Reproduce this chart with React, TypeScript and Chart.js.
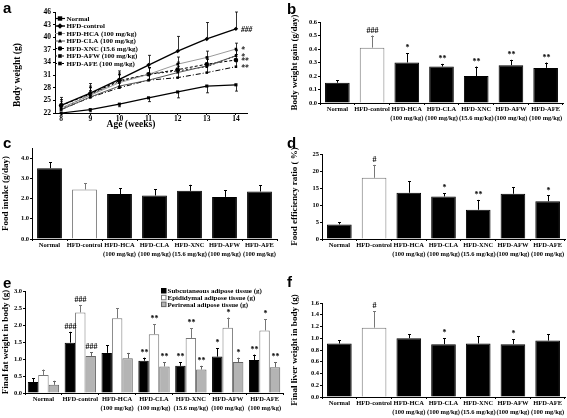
import React, { useEffect, useRef } from "react";
import { Chart, registerables } from "chart.js";
Chart.register(...registerables);

const FONT = "'Liberation Serif', 'Times New Roman', serif";
Chart.defaults.font.family = FONT;
Chart.defaults.color = "#000";

// ---------- data ----------
const ageWeeks = [8, 9, 10, 11, 12, 13, 14];
const bwNormal = [22.0, 22.8, 24.1, 25.6, 27.0, 28.4, 28.7];
const bwNormalSd = [0.3, 0.5, 0.6, 0.9, 1.4, 1.6, 1.5];
const bwControl = [23.8, 26.7, 30.0, 33.4, 36.7, 39.6, 42.0];
const bwControlSd = [1.9, 2.3, 2.0, 2.3, 3.5, 3.9, 4.0];
const bwHca = [23.2, 26.2, 29.2, 31.2, 33.6, 35.2, 37.2];
const bwHcaSd = [1.6, 2.2, 1.9, 1.6, 1.7, 1.5, 1.4];
const bwCla = [22.8, 25.8, 28.4, 29.8, 31.6, 33.2, 35.6];
const bwClaSd = [1.2, 1.5, 1.5, 1.5, 1.5, 1.6, 1.2];
const bwXnc = [23.8, 26.5, 29.7, 31.2, 32.3, 33.6, 34.6];
const bwXncSd = [1.4, 1.6, 1.8, 1.6, 1.8, 1.7, 1.3];
const bwAfw = [23.0, 26.3, 29.5, 31.2, 32.0, 33.0, 35.6];
const bwAfwSd = [1.3, 1.7, 1.6, 1.5, 1.8, 1.8, 1.4];
const bwAfe = [22.8, 25.7, 28.0, 29.8, 30.4, 31.6, 33.0];
const bwAfeSd = [1.2, 1.5, 1.6, 1.4, 1.6, 1.6, 1.2];
const bwMarks = ["", "###", "*", "*", "**", "", "**"];

const groupLabels = [
  "Normal",
  "HFD-control",
  ["HFD-HCA", "(100 mg/kg)"],
  ["HFD-CLA", "(100 mg/kg)"],
  ["HFD-XNC", "(15.6 mg/kg)"],
  ["HFD-AFW", "(100 mg/kg)"],
  ["HFD-AFE", "(100 mg/kg)"],
];

const gainValues = [0.15, 0.41, 0.30, 0.27, 0.20, 0.28, 0.26];
const gainErr = [0.02, 0.09, 0.07, 0.02, 0.07, 0.04, 0.04];
const gainMarks = ["", "###", "*", "**", "**", "**", "**"];

const intakeValues = [3.5, 2.45, 2.22, 2.15, 2.38, 2.08, 2.35];
const intakeErr = [0.3, 0.3, 0.3, 0.3, 0.3, 0.32, 0.3];
const intakeMarks = ["", "", "", "", "", "", ""];

const ferValues = [4.3, 18.0, 13.6, 12.5, 8.6, 13.3, 11.1];
const ferErr = [0.6, 3.8, 3.4, 1.0, 2.9, 2.0, 1.7];
const ferMarks = ["", "#", "", "*", "**", "", "*"];

const subcutValues = [0.32, 1.48, 1.18, 0.95, 0.80, 1.07, 0.97];
const subcutErr = [0.12, 0.32, 0.22, 0.09, 0.10, 0.25, 0.16];
const subcutMarks = ["", "###", "", "**", "**", "*", "**"];
const epiValues = [0.53, 2.37, 2.20, 1.73, 1.62, 1.92, 1.84];
const epiErr = [0.16, 0.22, 0.30, 0.29, 0.28, 0.30, 0.33];
const epiMarks = ["", "###", "", "**", "**", "*", "*"];
const periValues = [0.24, 1.09, 1.02, 0.78, 0.69, 0.91, 0.76];
const periErr = [0.12, 0.11, 0.16, 0.12, 0.11, 0.13, 0.14];
const periMarks = ["", "###", "", "**", "**", "*", "**"];
const fatLegend = [
  "Subcutaneous adipose tissue (g)",
  "Epididymal adipose tissue (g)",
  "Perirenal adipose tissue (g)",
];

const liverValues = [0.91, 1.18, 1.00, 0.90, 0.91, 0.90, 0.96];
const liverErr = [0.06, 0.28, 0.07, 0.10, 0.12, 0.08, 0.11];
const liverMarks = ["", "#", "", "*", "", "*", ""];

// ---------- helpers ----------
type Rect = { l: number; t: number; w: number; h: number };
type Plot = { l: number; t: number; r: number; b: number };
type Series = { values: number[]; errs: number[]; marks: string[]; fill: string; stroke: string };

function drawMarker(ctx: CanvasRenderingContext2D, style: string, x: number, y: number, r: number) {
  ctx.beginPath();
  if (style === "rect") ctx.rect(x - r, y - r, 2 * r, 2 * r);
  else if (style === "rectRot") {
    ctx.moveTo(x, y - r * 1.3); ctx.lineTo(x + r * 1.3, y); ctx.lineTo(x, y + r * 1.3); ctx.lineTo(x - r * 1.3, y); ctx.closePath();
  } else if (style === "triangle") {
    ctx.moveTo(x, y - r * 1.2); ctx.lineTo(x + r * 1.1, y + r * 0.8); ctx.lineTo(x - r * 1.1, y + r * 0.8); ctx.closePath();
  } else ctx.arc(x, y, r, 0, Math.PI * 2);
  ctx.fill();
}

function errPlugin(series: Series[]) {
  return {
    id: "errs",
    afterDatasetsDraw(chart: any) {
      const ctx: CanvasRenderingContext2D = chart.ctx;
      const ys = chart.scales.y;
      series.forEach((s, i) => {
        const meta = chart.getDatasetMeta(i);
        meta.data.forEach((el: any, j: number) => {
          const x = Math.round(el.x) + 0.5;
          const y0 = ys.getPixelForValue(s.values[j]);
          const y1 = ys.getPixelForValue(s.values[j] + s.errs[j]);
          ctx.save();
          ctx.strokeStyle = s.stroke;
          ctx.lineWidth = 1;
          ctx.beginPath();
          ctx.moveTo(x, y0);
          ctx.lineTo(x, y1);
          ctx.moveTo(x - 1.5, Math.round(y1) + 0.5);
          ctx.lineTo(x + 1.5, Math.round(y1) + 0.5);
          ctx.stroke();
          const m = s.marks[j];
          if (m) {
            ctx.fillStyle = "#000";
            ctx.font = `bold 8px ${FONT}`;
            ctx.textAlign = "center";
            ctx.textBaseline = "bottom";
            ctx.fillText(m, x, y1 - 1);
          }
          ctx.restore();
        });
      });
    },
  };
}

type BarCfg = {
  series: Series[];
  max: number;
  step: number;
  dec: number;
  title: string;
  titlePad: number;
  catPct: number;
  barPct: number;
  extra?: any;
};

function barChart(canvas: HTMLCanvasElement, box: Rect, plot: Plot, cfg: BarCfg) {
  const yW = plot.l - box.l;
  const xH = box.t + box.h - plot.b;
  const plugins: any[] = [errPlugin(cfg.series)];
  if (cfg.extra) plugins.push(cfg.extra);
  return new Chart(canvas, {
    type: "bar",
    data: {
      labels: groupLabels as any,
      datasets: cfg.series.map((s) => ({
        data: s.values,
        backgroundColor: s.fill,
        borderColor: s.stroke,
        borderWidth: 1,
        categoryPercentage: cfg.catPct,
        barPercentage: cfg.barPct,
      })),
    },
    options: {
      animation: false,
      responsive: false,
      devicePixelRatio: 1,
      layout: { padding: { left: 0, top: plot.t - box.t, right: box.l + box.w - plot.r, bottom: 0 } },
      plugins: { legend: { display: false }, tooltip: { enabled: false } },
      scales: {
        x: {
          grid: { drawOnChartArea: false, tickLength: 2, color: "#000", offset: true },
          border: { color: "#000", width: 1 },
          ticks: {
            color: "#000",
            font: { size: 6.5, weight: "bold", family: FONT, lineHeight: 1.35 },
            padding: 0,
            maxRotation: 0,
            minRotation: 0,
            autoSkip: false,
          },
          afterFit: (s: any) => { s.height = xH; },
        },
        y: {
          min: 0,
          max: cfg.max,
          grid: { drawOnChartArea: false, tickLength: 2, color: "#000" },
          border: { color: "#000", width: 1 },
          ticks: {
            stepSize: cfg.step,
            color: "#000",
            padding: 1,
            font: { size: 6.5, weight: "bold", family: FONT },
            callback: (v: any) => Number(v).toFixed(cfg.dec),
          },
          title: {
            display: true,
            text: cfg.title,
            color: "#000",
            font: { size: 9, weight: "bold", family: FONT },
            padding: { top: cfg.titlePad, bottom: 0 },
          },
          afterFit: (s: any) => { s.width = yW; },
        },
      },
    } as any,
    plugins,
  });
}

// ---------- panel a ----------
const lineSeries = [
  { label: "Normal", data: bwNormal, sd: bwNormalSd, color: "#000", width: 1.2, dash: [] as number[], point: "rect", r: 2.2, down: true },
  { label: "HFD-control", data: bwControl, sd: bwControlSd, color: "#000", width: 1.4, dash: [], point: "rectRot", r: 2.2, down: false },
  { label: "HFD-HCA (100 mg/kg)", data: bwHca, sd: bwHcaSd, color: "#9a9a9a", width: 1, dash: [], point: "rect", r: 1.8, down: false },
  { label: "HFD-CLA (100 mg/kg)", data: bwCla, sd: bwClaSd, color: "#555", width: 1, dash: [], point: "triangle", r: 1.9, down: false },
  { label: "HFD-XNC (15.6 mg/kg)", data: bwXnc, sd: bwXncSd, color: "#000", width: 1, dash: [3, 2], point: "circle", r: 2.3, down: false },
  { label: "HFD-AFW (100 mg/kg)", data: bwAfw, sd: bwAfwSd, color: "#222", width: 1, dash: [2, 2], point: "rect", r: 1.8, down: false },
  { label: "HFD-AFE (100 mg/kg)", data: bwAfe, sd: bwAfeSd, color: "#000", width: 1, dash: [5, 2, 1, 2], point: "rect", r: 1.8, down: false },
];

function buildA(canvas: HTMLCanvasElement, box: Rect, plot: Plot) {
  const yW = plot.l - box.l;
  const xH = box.t + box.h - plot.b;
  const overlay = {
    id: "overlay",
    afterDatasetsDraw(chart: any) {
      const ctx: CanvasRenderingContext2D = chart.ctx;
      const xs = chart.scales.x;
      const ys = chart.scales.y;
      ctx.save();
      lineSeries.forEach((s, i) => {
        s.data.forEach((v, j) => {
          const x = Math.round(xs.getPixelForValue(ageWeeks[j])) + 0.5;
          const y0 = ys.getPixelForValue(v);
          const y1 = ys.getPixelForValue(s.down ? v - s.sd[j] : v + s.sd[j]);
          ctx.strokeStyle = "#000";
          ctx.lineWidth = 0.8;
          ctx.beginPath();
          ctx.moveTo(x, y0);
          ctx.lineTo(x, y1);
          ctx.moveTo(x - 1.5, y1);
          ctx.lineTo(x + 1.5, y1);
          ctx.stroke();
        });
        const m = bwMarks[i];
        if (m) {
          const last = s.data.length - 1;
          ctx.fillStyle = "#000";
          ctx.font = `italic bold 7.5px ${FONT}`;
          ctx.textAlign = "left";
          ctx.textBaseline = "middle";
          ctx.fillText(m, xs.getPixelForValue(ageWeeks[last]) + 5, ys.getPixelForValue(s.data[last]) + 1);
        }
      });
      // legend
      lineSeries.forEach((s, i) => {
        const y = 18.5 + i * 7.5;
        ctx.strokeStyle = s.color;
        ctx.lineWidth = s.width;
        ctx.setLineDash(s.dash.length ? [2, 1.5] : []);
        ctx.beginPath();
        ctx.moveTo(55, y);
        ctx.lineTo(65, y);
        ctx.stroke();
        ctx.setLineDash([]);
        ctx.fillStyle = "#000";
        drawMarker(ctx, s.point, 60, y, s.r);
        ctx.font = `bold 7px ${FONT}`;
        ctx.textAlign = "left";
        ctx.textBaseline = "middle";
        ctx.fillText(s.label, 66.5, y + 0.5);
      });
      // axis titles
      ctx.font = `bold 9.5px ${FONT}`;
      ctx.textAlign = "center";
      ctx.textBaseline = "middle";
      ctx.fillText("Age (weeks)", 131, 124.5);
      ctx.translate(18, 75);
      ctx.rotate(-Math.PI / 2);
      ctx.fillText("Body weight (g)", 0, 0);
      ctx.restore();
    },
  };
  return new Chart(canvas, {
    type: "line",
    data: {
      datasets: lineSeries.map((s) => ({
        label: s.label,
        data: s.data.map((v, j) => ({ x: ageWeeks[j], y: v })),
        borderColor: s.color,
        borderWidth: s.width,
        borderDash: s.dash,
        pointStyle: s.point,
        pointRadius: s.r,
        pointBackgroundColor: "#000",
        pointBorderColor: "#000",
        pointBorderWidth: 0,
        tension: 0,
        fill: false,
      })),
    },
    options: {
      animation: false,
      responsive: false,
      devicePixelRatio: 1,
      layout: { padding: { left: 0, top: plot.t - box.t, right: box.l + box.w - plot.r, bottom: 0 } },
      plugins: { legend: { display: false }, tooltip: { enabled: false } },
      scales: {
        x: {
          type: "linear",
          min: 7.79,
          max: 14.38,
          afterBuildTicks: (s: any) => { s.ticks = ageWeeks.map((v) => ({ value: v })); },
          grid: { drawOnChartArea: false, tickLength: 2, color: "#000" },
          border: { color: "#000", width: 1 },
          ticks: { color: "#000", padding: 0, font: { size: 7.5, weight: "bold", family: FONT }, maxRotation: 0, autoSkip: false },
          afterFit: (s: any) => { s.height = xH; },
        },
        y: {
          min: 22,
          max: 46,
          grid: { drawOnChartArea: false, tickLength: 2, color: "#000" },
          border: { color: "#000", width: 1 },
          ticks: { stepSize: 3, color: "#000", padding: 2, font: { size: 7.5, weight: "bold", family: FONT } },
          afterFit: (s: any) => { s.width = yW; },
        },
      },
    } as any,
    plugins: [overlay],
  });
}

// ---------- panels ----------
const black = (values: number[], errs: number[], marks: string[]): Series => ({ values, errs, marks, fill: "#000", stroke: "#000" });
const single = (values: number[], errs: number[], marks: string[]): Series[] => [
  {
    values,
    errs,
    marks,
    fill: values.map((_, i) => (i === 1 ? "#fff" : "#000")) as any,
    stroke: values.map((_, i) => (i === 1 ? "#777" : "#000")) as any,
  },
];

function singleSeries(values: number[], errs: number[], marks: string[]): Series[] {
  return single(values, errs, marks);
}

const boxA: Rect = { l: 0, t: 0, w: 285, h: 135 };
const plotA: Plot = { l: 55, t: 12, r: 247, b: 113 };
const boxB: Rect = { l: 285, t: 0, w: 282, h: 135 };
const plotB: Plot = { l: 320, t: 22, r: 563, b: 103 };
const boxC: Rect = { l: 0, t: 135, w: 285, h: 135 };
const plotC: Plot = { l: 32, t: 148, r: 277, b: 239 };
const boxD: Rect = { l: 285, t: 135, w: 282, h: 135 };
const plotD: Plot = { l: 322, t: 154, r: 565, b: 239 };
const boxE: Rect = { l: 0, t: 270, w: 287, h: 148 };
const plotE: Plot = { l: 25, t: 291, r: 283, b: 393 };
const boxF: Rect = { l: 285, t: 270, w: 282, h: 148 };
const plotF: Plot = { l: 322, t: 303, r: 565, b: 397 };

// error plugin needs a single stroke colour per bar; wrap to handle arrays
function fixSeries(ss: Series[]): Series[] {
  return ss;
}

function errColorPlugin(series: Series[]) {
  return errPlugin(series);
}

const fatLegendPlugin = {
  id: "fatLegend",
  afterDraw(chart: any) {
    const ctx: CanvasRenderingContext2D = chart.ctx;
    const fills = ["#000", "#fff", "#b4b4b4"];
    const strokes = ["#000", "#777", "#666"];
    ctx.save();
    fatLegend.forEach((t, i) => {
      const y = 21 + i * 6.8;
      ctx.fillStyle = fills[i];
      ctx.strokeStyle = strokes[i];
      ctx.lineWidth = 1;
      ctx.fillRect(161.5, y - 2.5, 4.5, 4.5);
      ctx.strokeRect(161.5, y - 2.5, 4.5, 4.5);
      ctx.fillStyle = "#000";
      ctx.font = `bold 7px ${FONT}`;
      ctx.textAlign = "left";
      ctx.textBaseline = "middle";
      ctx.fillText(t, 167.5, y + 0.3);
    });
    ctx.restore();
  },
};

function Panel({ box, build }: { box: Rect; build: (c: HTMLCanvasElement) => Chart }) {
  const ref = useRef<HTMLCanvasElement>(null);
  useEffect(() => {
    const c = build(ref.current!);
    return () => c.destroy();
  }, []);
  return (
    <canvas
      ref={ref}
      width={box.w}
      height={box.h}
      style={{ position: "absolute", left: box.l, top: box.t, width: box.w, height: box.h }}
    />
  );
}

// per-bar stroke colours need per-bar error colour: build series with scalar stroke for error bars
function barSeries(values: number[], errs: number[], marks: string[]) {
  return values.map((_, i) => (i === 1 ? "#777" : "#000"));
}

function errPerBar(values: number[], errs: number[], marks: string[]) {
  return {
    id: "errsPerBar",
    afterDatasetsDraw(chart: any) {
      const ctx: CanvasRenderingContext2D = chart.ctx;
      const ys = chart.scales.y;
      const meta = chart.getDatasetMeta(0);
      meta.data.forEach((el: any, j: number) => {
        const x = Math.round(el.x) + 0.5;
        const y0 = ys.getPixelForValue(values[j]);
        const y1 = ys.getPixelForValue(values[j] + errs[j]);
        ctx.save();
        ctx.strokeStyle = j === 1 ? "#777" : "#000";
        ctx.lineWidth = 1;
        ctx.beginPath();
        ctx.moveTo(x, y0);
        ctx.lineTo(x, y1);
        ctx.moveTo(x - 1.5, Math.round(y1) + 0.5);
        ctx.lineTo(x + 1.5, Math.round(y1) + 0.5);
        ctx.stroke();
        if (marks[j]) {
          ctx.fillStyle = "#000";
          ctx.font = `bold 8px ${FONT}`;
          ctx.textAlign = "center";
          ctx.textBaseline = "bottom";
          ctx.fillText(marks[j], x, y1 - 1);
        }
        ctx.restore();
      });
    },
  };
}

function singleBar(canvas: HTMLCanvasElement, box: Rect, plot: Plot, values: number[], errs: number[], marks: string[], max: number, step: number, dec: number, title: string, titlePad: number) {
  const yW = plot.l - box.l;
  const xH = box.t + box.h - plot.b;
  return new Chart(canvas, {
    type: "bar",
    data: {
      labels: groupLabels as any,
      datasets: [
        {
          data: values,
          backgroundColor: values.map((_, i) => (i === 1 ? "#fff" : "#000")),
          borderColor: barSeries(values, errs, marks),
          borderWidth: 1,
          categoryPercentage: 1,
          barPercentage: 0.71,
        },
      ],
    },
    options: {
      animation: false,
      responsive: false,
      devicePixelRatio: 1,
      layout: { padding: { left: 0, top: plot.t - box.t, right: box.l + box.w - plot.r, bottom: 0 } },
      plugins: { legend: { display: false }, tooltip: { enabled: false } },
      scales: {
        x: {
          grid: { drawOnChartArea: false, tickLength: 2, color: "#000", offset: true },
          border: { color: "#000", width: 1 },
          ticks: {
            color: "#000",
            font: { size: 6.5, weight: "bold", family: FONT, lineHeight: 1.35 },
            padding: 0,
            maxRotation: 0,
            minRotation: 0,
            autoSkip: false,
          },
          afterFit: (s: any) => { s.height = xH; },
        },
        y: {
          min: 0,
          max,
          grid: { drawOnChartArea: false, tickLength: 2, color: "#000" },
          border: { color: "#000", width: 1 },
          ticks: {
            stepSize: step,
            color: "#000",
            padding: 1,
            font: { size: 6.5, weight: "bold", family: FONT },
            callback: (v: any) => Number(v).toFixed(dec),
          },
          title: {
            display: true,
            text: title,
            color: "#000",
            font: { size: 9, weight: "bold", family: FONT },
            padding: { top: titlePad, bottom: 0 },
          },
          afterFit: (s: any) => { s.width = yW; },
        },
      },
    } as any,
    plugins: [errPerBar(values, errs, marks)],
  });
}

const letterStyle = (l: number, t: number): React.CSSProperties => ({
  position: "absolute",
  left: l,
  top: t,
  font: "bold 15px 'Liberation Sans', Arial, sans-serif",
  lineHeight: "15px",
  color: "#000",
});

export default function App() {
  return (
    <div style={{ position: "fixed", left: 0, top: 0, width: 567, height: 418, background: "#fff", overflow: "hidden" }}>
      <Panel box={boxA} build={(c) => buildA(c, boxA, plotA)} />
      <Panel
        box={boxB}
        build={(c) => singleBar(c, boxB, plotB, gainValues, gainErr, gainMarks, 0.6, 0.1, 1, "Body weight gain (g/day)", 4)}
      />
      <Panel
        box={boxC}
        build={(c) => singleBar(c, boxC, plotC, intakeValues, intakeErr, intakeMarks, 4.5, 0.5, 1, "Food intake (g/day)", 0)}
      />
      <Panel
        box={boxD}
        build={(c) => singleBar(c, boxD, plotD, ferValues, ferErr, ferMarks, 25, 5, 0, "Food efficiency ratio ( %)", 4)}
      />
      <Panel
        box={boxE}
        build={(c) =>
          barChart(c, boxE, plotE, {
            series: [
              black(subcutValues, subcutErr, subcutMarks),
              { values: epiValues, errs: epiErr, marks: epiMarks, fill: "#fff", stroke: "#777" },
              { values: periValues, errs: periErr, marks: periMarks, fill: "#b4b4b4", stroke: "#666" },
            ],
            max: 3.0,
            step: 0.5,
            dec: 1,
            title: "Final fat weight in body (g)",
            titlePad: 0,
            catPct: 0.85,
            barPct: 1,
            extra: fatLegendPlugin,
          })
        }
      />
      <Panel
        box={boxF}
        build={(c) => singleBar(c, boxF, plotF, liverValues, liverErr, liverMarks, 1.6, 0.2, 1, "Final liver weight in body (g)", 4)}
      />
      <div style={letterStyle(3, 0)}>a</div>
      <div style={letterStyle(287, 1)}>b</div>
      <div style={letterStyle(3, 135)}>c</div>
      <div style={letterStyle(287, 135)}>d</div>
      <div style={letterStyle(3, 275)}>e</div>
      <div style={letterStyle(287, 274)}>f</div>
    </div>
  );
}
